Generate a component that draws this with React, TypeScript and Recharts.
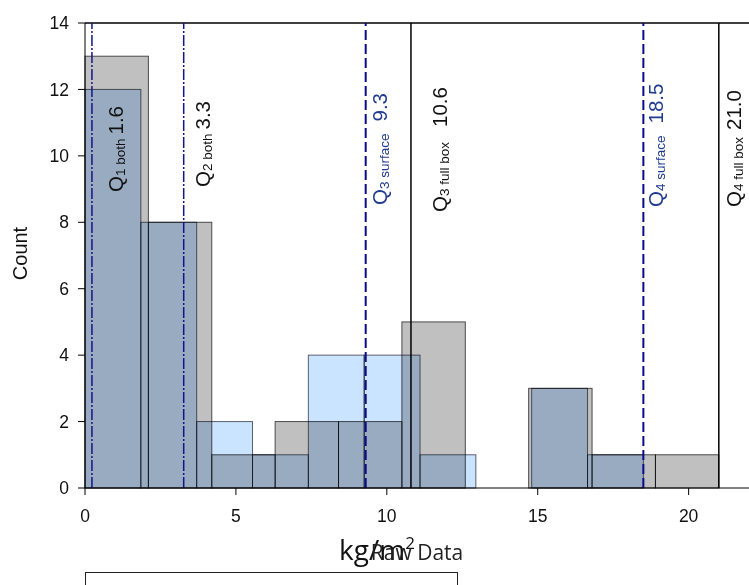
import React from "react";
import {
  ComposedChart,
  ReferenceArea,
  ReferenceLine,
  XAxis,
  YAxis,
} from "recharts";

// histogram bins: full box (gray) and surface (light blue)
const fullBoxEdges = [0, 2.1, 4.2, 6.3, 8.4, 10.5, 12.6, 14.7, 16.8, 18.9, 21];
const fullBoxCounts = [13, 8, 1, 2, 2, 5, 0, 3, 1, 1];
const surfaceEdges = [0, 1.85, 3.7, 5.55, 7.4, 9.25, 11.1, 12.95, 14.8, 16.65, 18.5];
const surfaceCounts = [12, 8, 2, 1, 4, 4, 1, 0, 3, 1];

// quantile markers
const quantileX = [0.23, 3.27, 9.3, 10.8, 18.5, 21.0];
const quantileIndex = ["1", "2", "3", "3", "4", "4"];
const quantileGroup = ["both", "both", "surface", "full box", "surface", "full box"];
const quantileValue = ["1.6", "3.3", "9.3", "10.6", "18.5", "21.0"];

const xTicks = [0, 5, 10, 15, 20];
const yTicks = [0, 2, 4, 6, 8, 10, 12, 14];

// line / label styling per group
const groupStyle: Record<string, { stroke: string; dash?: string; width: number; text: string }> = {
  both: { stroke: "#14148c", dash: "11 2 2 2", width: 1.5, text: "#111" },
  surface: { stroke: "#0c0c8a", dash: "10 4", width: 2, text: "#1f3a8f" },
  "full box": { stroke: "#000", width: 1.5, text: "#111" },
};
// label placement relative to its line (baseline dx, start dy from top), gap before value
const labelDx = [31, 26, 21, 36, 20, 22];
const labelDy = [169, 164, 182, 189, 184, 184];
const valueGap = [4, 4, 12, 15, 12, 7];

const chartData = fullBoxCounts.map((c, i) => ({ x: fullBoxEdges[i], count: c }));

const sans = "'Liberation Sans', Arial, sans-serif";

const blendRect = (fill: string, stroke: string) => (p: any) => (
  <rect
    x={p.x}
    y={p.y}
    width={p.width}
    height={p.height}
    fill={fill}
    stroke={stroke}
    strokeWidth={1}
    style={{ mixBlendMode: "multiply" }}
  />
);

const makeQuantileLabel = (i: number) => (props: any) => {
  const vb = props.viewBox || {};
  const bx = vb.x + labelDx[i];
  const by = vb.y + labelDy[i];
  const st = groupStyle[quantileGroup[i]];
  return (
    <text
      x={bx}
      y={by}
      transform={`rotate(-90 ${bx} ${by})`}
      fill={st.text}
      fontFamily={sans}
      fontSize={20.5}
    >
      <tspan>Q</tspan>
      <tspan fontSize={13.5} dy={2}>
        {quantileIndex[i]} {quantileGroup[i]}
      </tspan>
      <tspan dy={-2} dx={valueGap[i]}>
        {quantileValue[i]}
      </tspan>
    </text>
  );
};

const renderXLabel = (props: any) => {
  const vb = props.viewBox || {};
  const cx = vb.x + vb.width / 2;
  return (
    <g>
      <text x={cx - 40} y={560} textAnchor="middle" fontFamily="'Open Sans', sans-serif" fontSize={28} fill="#111">
        kg/m
        <tspan fontSize={17} dy={-11}>
          2
        </tspan>
      </text>
      <text x={cx} y={560} textAnchor="middle" fontFamily="'Open Sans', sans-serif" fontSize={21} fill="#222">
        Raw Data
      </text>
    </g>
  );
};

const renderYLabel = (props: any) => {
  const vb = props.viewBox || {};
  const x = 27;
  const y = vb.y + vb.height / 2 - 2;
  return (
    <text x={x} y={y} transform={`rotate(-90 ${x} ${y})`} textAnchor="middle" fontFamily={sans} fontSize={20} fill="#111">
      Count
    </text>
  );
};

export default function App() {
  return (
    <div
      style={{
        position: "absolute",
        left: 0,
        top: 0,
        width: 749,
        height: 585,
        overflow: "hidden",
        background: "#fff",
      }}
    >
      <ComposedChart
        width={749}
        height={585}
        data={chartData}
        margin={{ top: 23, right: 0, bottom: 0, left: 0 }}
      >
        <XAxis
          dataKey="x"
          type="number"
          domain={[0, 22]}
          ticks={xTicks}
          allowDataOverflow
          height={97}
          tickSize={7}
          tickMargin={15}
          stroke="#000"
          tick={{ fill: "#111", fontSize: 17.5, fontFamily: sans }}
          label={{ content: renderXLabel }}
        />
        <YAxis
          type="number"
          domain={[0, 14]}
          ticks={yTicks}
          allowDataOverflow
          width={85}
          tickSize={7}
          tickMargin={9}
          stroke="#000"
          tick={{ fill: "#111", fontSize: 17.5, fontFamily: sans }}
          label={{ content: renderYLabel }}
        />

        {/* full box histogram */}
        {fullBoxCounts.map((c, i) =>
          c > 0 ? (
            <ReferenceArea
              key={`f${i}`}
              x1={fullBoxEdges[i]}
              x2={fullBoxEdges[i + 1]}
              y1={0}
              y2={c}
              shape={blendRect("#c0c0c0", "#4a4a4a")}
            />
          ) : null
        )}

        {/* surface histogram, multiplied over the gray */}
        {surfaceCounts.map((c, i) =>
          c > 0 ? (
            <ReferenceArea
              key={`s${i}`}
              x1={surfaceEdges[i]}
              x2={surfaceEdges[i + 1]}
              y1={0}
              y2={c}
              shape={blendRect("#cae4ff", "#5a6070")}
            />
          ) : null
        )}

        {/* top frame */}
        <ReferenceLine y={14} stroke="#000" strokeWidth={1.5} />

        {quantileX.map((x, i) => {
          const st = groupStyle[quantileGroup[i]];
          return (
            <ReferenceLine
              key={`q${i}`}
              x={x}
              stroke={st.stroke}
              strokeWidth={st.width}
              strokeDasharray={st.dash}
              label={makeQuantileLabel(i)}
            />
          );
        })}
      </ComposedChart>
      <div
        style={{
          position: "absolute",
          left: 85,
          top: 572,
          width: 371,
          height: 40,
          border: "1.5px solid #222",
          background: "#fff",
        }}
      />
    </div>
  );
}
